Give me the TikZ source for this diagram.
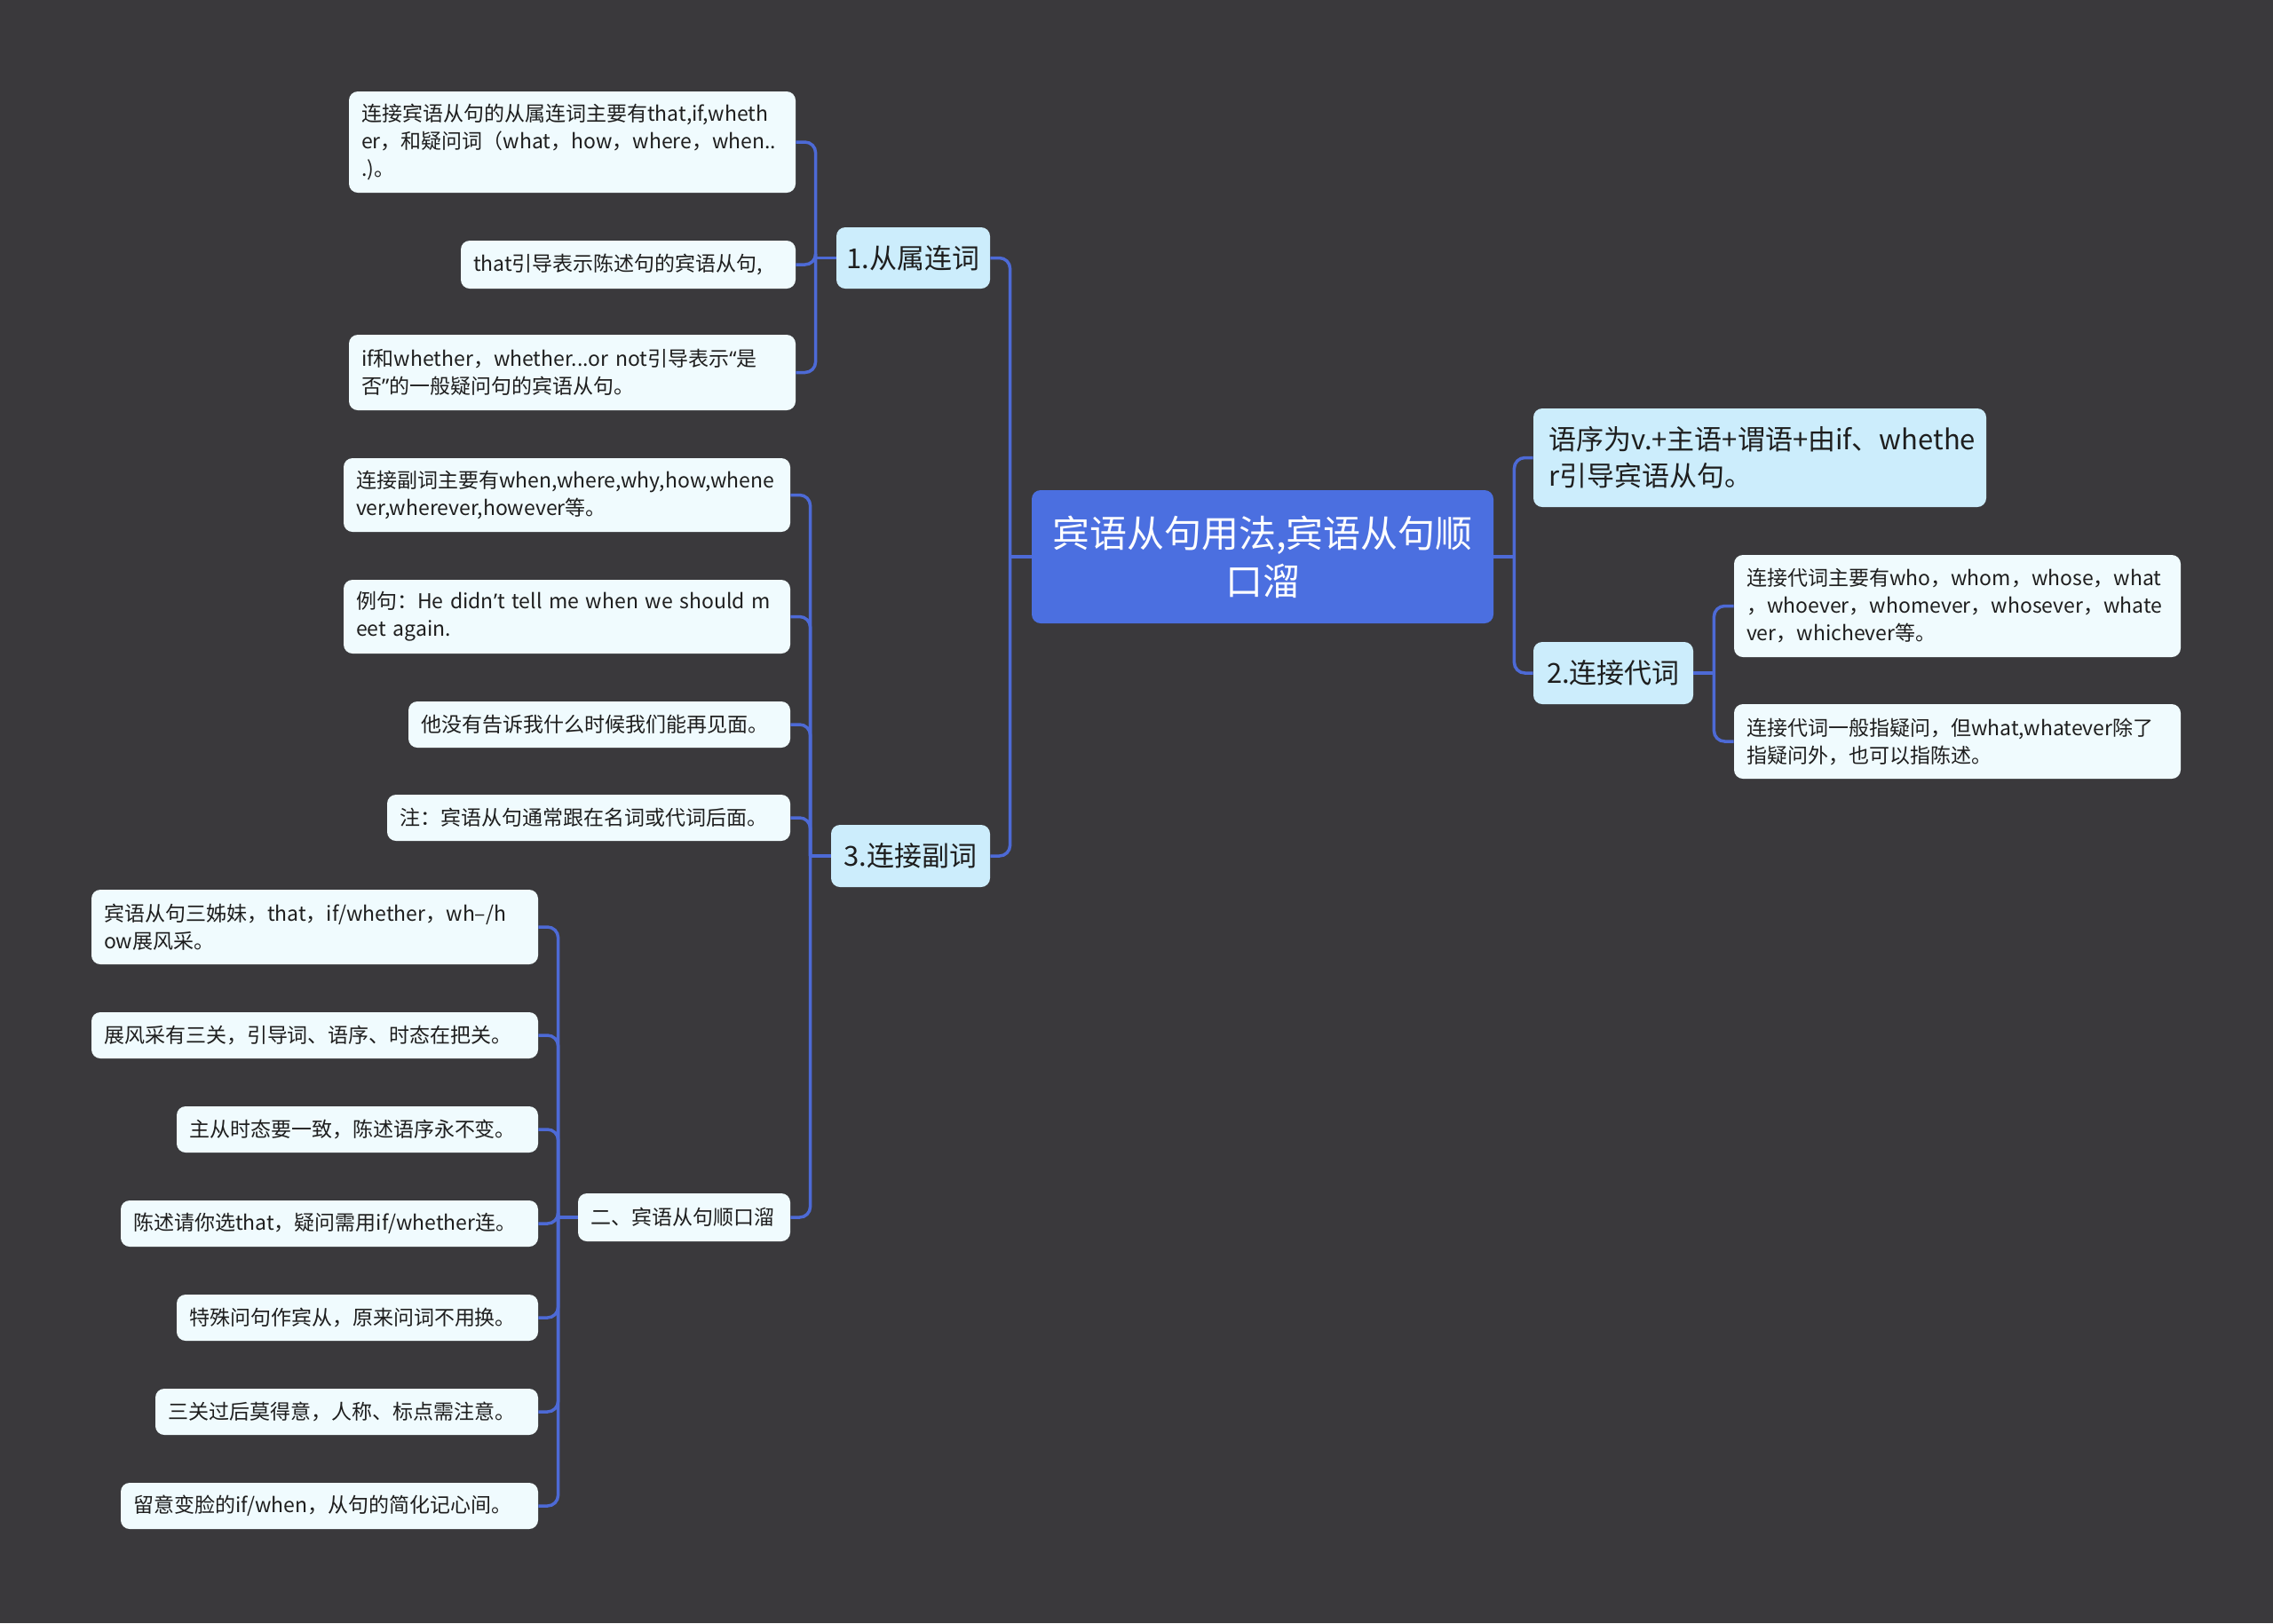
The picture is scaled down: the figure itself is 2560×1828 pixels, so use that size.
\documentclass[tikz,border=0pt]{standalone}
\usepackage{fontspec}
\setmainfont{Noto Sans CJK SC}
\newfontfamily\latf{Noto Sans}
\usetikzlibrary{calc}
\definecolor{bgc}{HTML}{3A393C}
\definecolor{rootc}{HTML}{4B6FE0}
\definecolor{lvc}{HTML}{CCEDFC}
\definecolor{leafc}{HTML}{F0FBFE}
\definecolor{edgec}{HTML}{4D6AD6}
\definecolor{txtc}{HTML}{1E1E1E}
\tikzset{
  rootbox/.style={rectangle, rounded corners=5pt, fill=rootc, text=white, align=center, inner sep=0pt,
    font=\fontsize{21}{27}\selectfont},
  lvbox/.style={rectangle, rounded corners=5pt, fill=lvc, text=txtc, align=center, inner sep=0pt,
    font=\fontsize{15.5}{20.5}\selectfont},
  lvtext/.style={rectangle, rounded corners=5pt, fill=lvc, text=txtc, align=left, inner xsep=8.5pt, inner ysep=0pt,
    font=\fontsize{15.5}{20.5}\selectfont},
  leaf/.style={rectangle, rounded corners=5pt, fill=leafc, text=txtc, align=left, inner xsep=7pt, inner ysep=0pt,
    font=\fontsize{11.5}{15.5}\selectfont},
  conn/.style={draw=edgec, line width=1.75pt, rounded corners=6pt},
}
\begin{document}
\begin{tikzpicture}[x=0.5pt,y=-0.5pt]
\fill[bgc] (0,0) rectangle (2560,1828);
\useasboundingbox (0,0) rectangle (2560,1828);

% root
\node[rootbox, minimum width=260pt, minimum height=75pt] (root) at (1422,627) {宾语从句用法,宾语从句顺\\口溜};

% level 1
\node[lvbox, minimum width=86.5pt, minimum height=34.5pt] (b1) at (1028.5,290.5) {1.从属连词};
\node[lvbox, minimum width=89.5pt, minimum height=35pt] (b3) at (1025.5,964) {3.连接副词};
\node[lvtext, text width=238pt, minimum height=55.5pt] (b0) at (1982,515.5) {语序为v.+主语+谓语+由if、whethe\\r引导宾语从句。};
\node[lvbox, minimum width=90pt, minimum height=35pt] (b2) at (1817,758) {2.连接代词};

% leaves of 1
\node[leaf, text width=237.5pt, minimum height=57pt] (l1a) at (644.5,160) {连接宾语从句的从属连词主要有that,if,wheth\\er，和疑问词（what，how，where，when..\\.)。};
\node[leaf, text width=174.5pt, minimum height=27pt] (l1b) at (707.5,298) {that引导表示陈述句的宾语从句,};
\node[leaf, text width=237.5pt, minimum height=42.5pt] (l1c) at (644.5,419.5) {if和whether，whether...or not引导表示{\latf “}是\\否{\latf ”}的一般疑问句的宾语从句。};

% leaves of 3
\node[leaf, text width=237.5pt, minimum height=41.5pt] (l3a) at (638.5,557.5) {连接副词主要有when,where,why,how,whene\\ver,wherever,however等。};
\node[leaf, text width=237.5pt, minimum height=41.5pt] (l3b) at (638.5,694.5) {例句：He didn{\latf ’}t tell me when we should\ m\\eet again.};
\node[leaf, text width=201pt, minimum height=26pt] (l3c) at (675,816) {他没有告诉我什么时候我们能再见面。};
\node[leaf, text width=213pt, minimum height=26pt] (l3d) at (663,921) {注：宾语从句通常跟在名词或代词后面。};
\node[leaf, text width=105.5pt, minimum height=27pt] (l3e) at (770.5,1371) {二、宾语从句顺口溜};

% leaves of 2
\node[leaf, text width=237.5pt, minimum height=57.5pt] (l2a) at (2204.5,682.5) {连接代词主要有who，whom，whose，what\\，whoever，whomever，whosever，whate\\ver，whichever等。};
\node[leaf, text width=237.5pt, minimum height=42pt] (l2b) at (2204.5,835) {连接代词一般指疑问，但what,whatever除了\\指疑问外，也可以指陈述。};

% leaves of 二
\node[leaf, text width=237.5pt, minimum height=42pt] (s1) at (354.5,1044) {宾语从句三姊妹，that，if/whether，wh–/h\\ow展风采。};
\node[leaf, text width=237.5pt, minimum height=26pt] (s2) at (354.5,1166) {展风采有三关，引导词、语序、时态在把关。};
\node[leaf, text width=189.5pt, minimum height=26pt] (s3) at (402.5,1272) {主从时态要一致，陈述语序永不变。};
\node[leaf, text width=221pt, minimum height=26pt] (s4) at (371,1378) {陈述请你选that，疑问需用if/whether连。};
\node[leaf, text width=189.5pt, minimum height=26pt] (s5) at (402.5,1484) {特殊问句作宾从，原来问词不用换。};
\node[leaf, text width=201.5pt, minimum height=26pt] (s6) at (390.5,1590) {三关过后莫得意，人称、标点需注意。};
\node[leaf, text width=221pt, minimum height=26pt] (s7) at (371,1696) {留意变脸的if/when，从句的简化记心间。};

% connectors: root left
\coordinate (tr0) at ($(root.west)+(-24,0)$);
\draw[conn] (root.west) -- (tr0);
\draw[conn] (tr0) |- (b1.east);
\draw[conn] (tr0) |- (b3.east);
% root right
\coordinate (tr1) at ($(root.east)+(23,0)$);
\draw[conn] (root.east) -- (tr1);
\draw[conn] (tr1) |- (b0.west);
\draw[conn] (tr1) |- (b2.west);
% b1
\coordinate (t1) at ($(b1.west)+(-23,0)$);
\draw[conn] (b1.west) -- (t1);
\foreach \n in {l1a,l1b,l1c} \draw[conn] (t1) |- (\n.east);
% b3
\coordinate (t3) at ($(b3.west)+(-23,0)$);
\draw[conn] (b3.west) -- (t3);
\foreach \n in {l3a,l3b,l3c,l3d,l3e} \draw[conn] (t3) |- (\n.east);
% b2
\coordinate (t2) at ($(b2.east)+(23,0)$);
\draw[conn] (b2.east) -- (t2);
\foreach \n in {l2a,l2b} \draw[conn] (t2) |- (\n.west);
% 二
\coordinate (t4) at ($(l3e.west)+(-22,0)$);
\draw[conn] (l3e.west) -- (t4);
\foreach \n in {s1,s2,s3,s4,s5,s6,s7} \draw[conn] (t4) |- (\n.east);
\end{tikzpicture}
\end{document}
